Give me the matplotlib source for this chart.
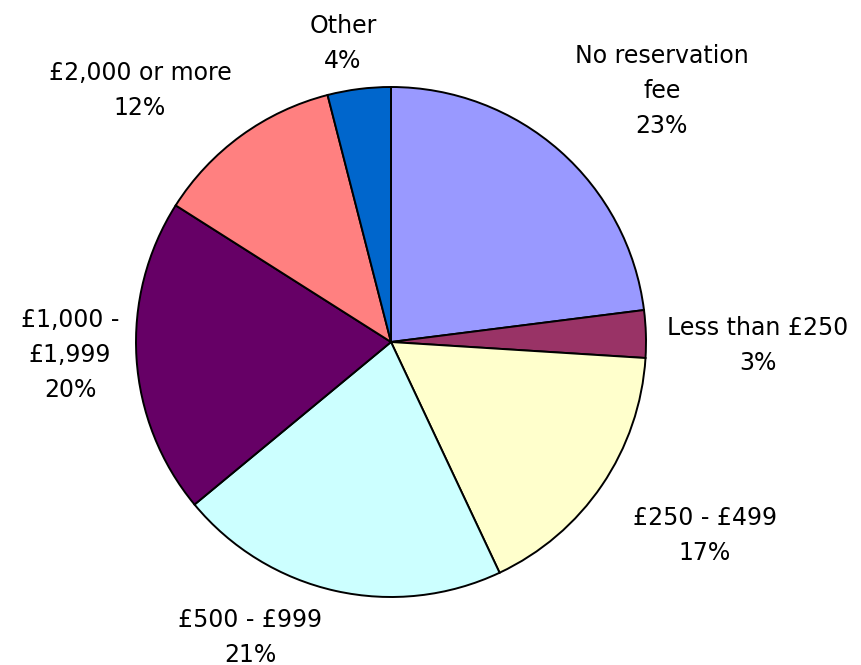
import numpy as np
import matplotlib
matplotlib.use("Agg")
import matplotlib.pyplot as plt

categories = ["No reservation\nfee", "Less than £250", "£250 - £499", "£500 - £999",
              "£1,000 -\n£1,999", "£2,000 or more", "Other"]
shares = [23, 3, 17, 21, 20, 12, 4]
colors = ["#9999FF", "#993366", "#FFFFCC", "#CCFFFF", "#660066", "#FF8080", "#0066CC"]

# label placement: radial distance (in radii) and angular nudge (degrees)
label_dist = [1.448, 1.439, 1.446, 1.282, 1.26, 1.395, 1.184]
label_nudge = [-5.8, -2.3, 2.6, -12.9, -1.3, 8.9, 1.95]

W, H = 861, 665
fig = plt.figure(figsize=(W / 100, H / 100), dpi=100)
ax = fig.add_axes([0, 0, 1, 1])

cx, cy, R = 391, H - 342, 255
wedges, _ = ax.pie(shares, colors=colors, startangle=90, counterclock=False,
                   center=(cx, cy), radius=R, frame=True,
                   wedgeprops=dict(edgecolor="black", linewidth=1.4))
ax.set_xlim(0, W)
ax.set_ylim(0, H)
ax.axis("off")

for w, name, val, d, nud in zip(wedges, categories, shares, label_dist, label_nudge):
    mid = np.deg2rad((w.theta1 + w.theta2) / 2 + nud)
    x = cx + d * R * np.cos(mid)
    y = cy + d * R * np.sin(mid)
    ax.text(x, y, f"{name}\n{val}%", ha="center", va="center",
            fontsize=17, linespacing=1.58, color="black", family="DejaVu Sans")

fig.savefig("out.png", dpi=100)
